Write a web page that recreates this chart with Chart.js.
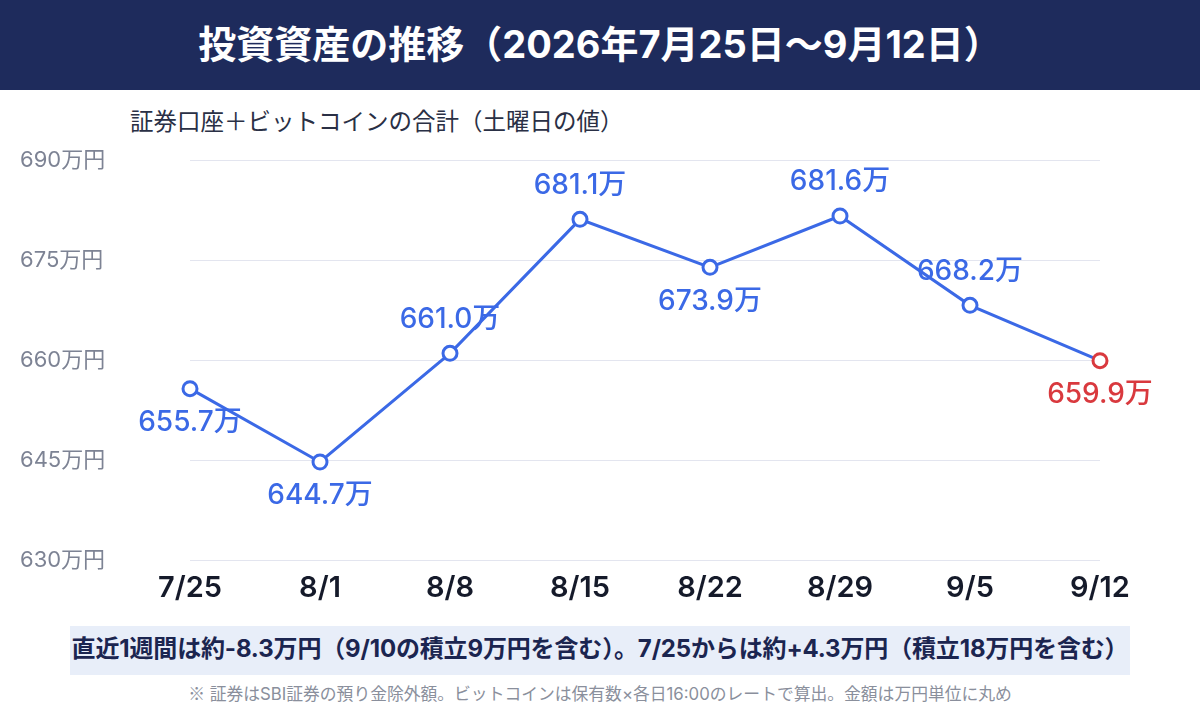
<!DOCTYPE html>
<html lang="ja">
<head>
<meta charset="utf-8">
<title>投資資産の推移</title>
<script src="https://cdn.jsdelivr.net/npm/chart.js@4.4.1/dist/chart.umd.min.js"></script>
<style>
  html, body { margin: 0; padding: 0; background: #fff; }
  body { width: 1200px; height: 720px; position: relative; overflow: hidden;
         font-family: Inter, "Noto Sans CJK JP", sans-serif; }
  .cabecera { position: absolute; left: 0; top: 0; width: 1200px; height: 90px;
              background: #1e2b5c; color: #fff; font-size: 38px; font-weight: 700;
              text-align: center; line-height: 88px; white-space: nowrap; }
  .subtitulo { position: absolute; left: 130px; top: 110px; font-size: 23.5px; line-height: 24px;
               color: #2a3045; white-space: nowrap; }
  .grafico { position: absolute; left: 0; top: 140px; width: 1200px; height: 470px; }
  .resumen { position: absolute; left: 70px; top: 626px; width: 1060px; height: 49px;
             background: #e8eef9; }
  .resumen-texto { position: absolute; left: 0; top: 626px; width: 1200px; height: 49px;
             color: #1b2550; font-size: 24px; font-weight: 700; letter-spacing: -0.15px;
             text-align: center; line-height: 46px; white-space: nowrap; }
  .nota { position: absolute; left: 0; top: 682px; width: 1200px; text-align: center;
          font-size: 16.8px; line-height: 22px; color: #8a8f9c; white-space: nowrap; }
  .nota .marca { font-family: "Noto Sans CJK JP", sans-serif; }
</style>
</head>
<body>
<div class="cabecera">投資資産の推移（2026年7月25日〜9月12日）</div>
<div class="subtitulo">証券口座＋ビットコインの合計（土曜日の値）</div>
<div class="grafico"><canvas id="graficoActivos"></canvas></div>
<div class="resumen"></div>
<div class="resumen-texto">直近1週間は約-8.3万円（9/10の積立9万円を含む）。7/25からは約+4.3万円（積立18万円を含む）</div>
<div class="nota"><span class="marca">※</span> 証券はSBI証券の預り金除外額。ビットコインは保有数×各日16:00のレートで算出。金額は万円単位に丸め</div>

<script>
// Datos del gráfico (万円)
const fechas = ["7/25", "8/1", "8/8", "8/15", "8/22", "8/29", "9/5", "9/12"];
const valores = [655.7, 644.7, 661.0, 681.1, 673.9, 681.6, 668.2, 659.9];
const ticksY = [630, 645, 660, 675, 690];

// Dónde va cada etiqueta respecto al punto
const posEtiqueta = ["abajo", "abajo", "arriba", "arriba", "abajo", "arriba", "arriba", "abajo"];

const AZUL = '#3b69e6';
const ROJO = '#d9393e';
const FUENTE = 'Inter, "Noto Sans CJK JP", sans-serif';
const ultimo = valores.length - 1;

// Plugin sencillo para dibujar los valores encima/debajo de cada punto
const etiquetasPlugin = {
    id: 'etiquetasValor',
    afterDatasetsDraw(chart) {
        const ctx = chart.ctx;
        const meta = chart.getDatasetMeta(0);
        ctx.save();
        ctx.font = '500 28px ' + FUENTE;
        ctx.textAlign = 'center';
        ctx.textBaseline = 'middle';
        meta.data.forEach((pt, i) => {
            const dy = posEtiqueta[i] === 'arriba' ? -34 : 34;
            ctx.fillStyle = i === ultimo ? ROJO : AZUL;
            ctx.fillText(valores[i].toFixed(1) + '万', pt.x, pt.y + dy);
        });
        ctx.restore();
    }
};

const ctx = document.getElementById('graficoActivos');

new Chart(ctx, {
    type: 'line',
    data: {
        labels: fechas,
        datasets: [{
            data: valores,
            borderColor: AZUL,
            borderWidth: 3,
            backgroundColor: '#ffffff',
            pointBackgroundColor: '#ffffff',
            pointBorderColor: valores.map((v, i) => i === ultimo ? ROJO : AZUL),
            pointBorderWidth: 3,
            pointRadius: 7,
            pointHoverRadius: 7,
            tension: 0,
            fill: false
        }]
    },
    options: {
        responsive: true,
        maintainAspectRatio: false,
        animation: false,
        layout: { padding: { left: 20, right: 100, top: 20, bottom: 0 } },
        plugins: {
            legend: { display: false },
            tooltip: { enabled: false }
        },
        scales: {
            x: {
                offset: false,
                grid: { display: false, drawTicks: false },
                border: { display: false },
                ticks: {
                    padding: 11,
                    color: '#151a2a',
                    font: { family: FUENTE, size: 29, weight: '600' }
                },
                afterFit(scale) { scale.height = 50; }
            },
            y: {
                min: 630,
                max: 690,
                afterBuildTicks(scale) { scale.ticks = ticksY.map(v => ({ value: v })); },
                grid: { color: '#e3e5ef', lineWidth: 1, drawTicks: false },
                border: { display: false },
                ticks: {
                    crossAlign: 'far',
                    padding: 0,
                    color: '#7d8394',
                    font: { family: FUENTE, size: 22 },
                    callback: v => v + '万円'
                },
                afterFit(scale) { scale.width = 170; }
            }
        }
    },
    plugins: [etiquetasPlugin]
});
</script>
</body>
</html>
